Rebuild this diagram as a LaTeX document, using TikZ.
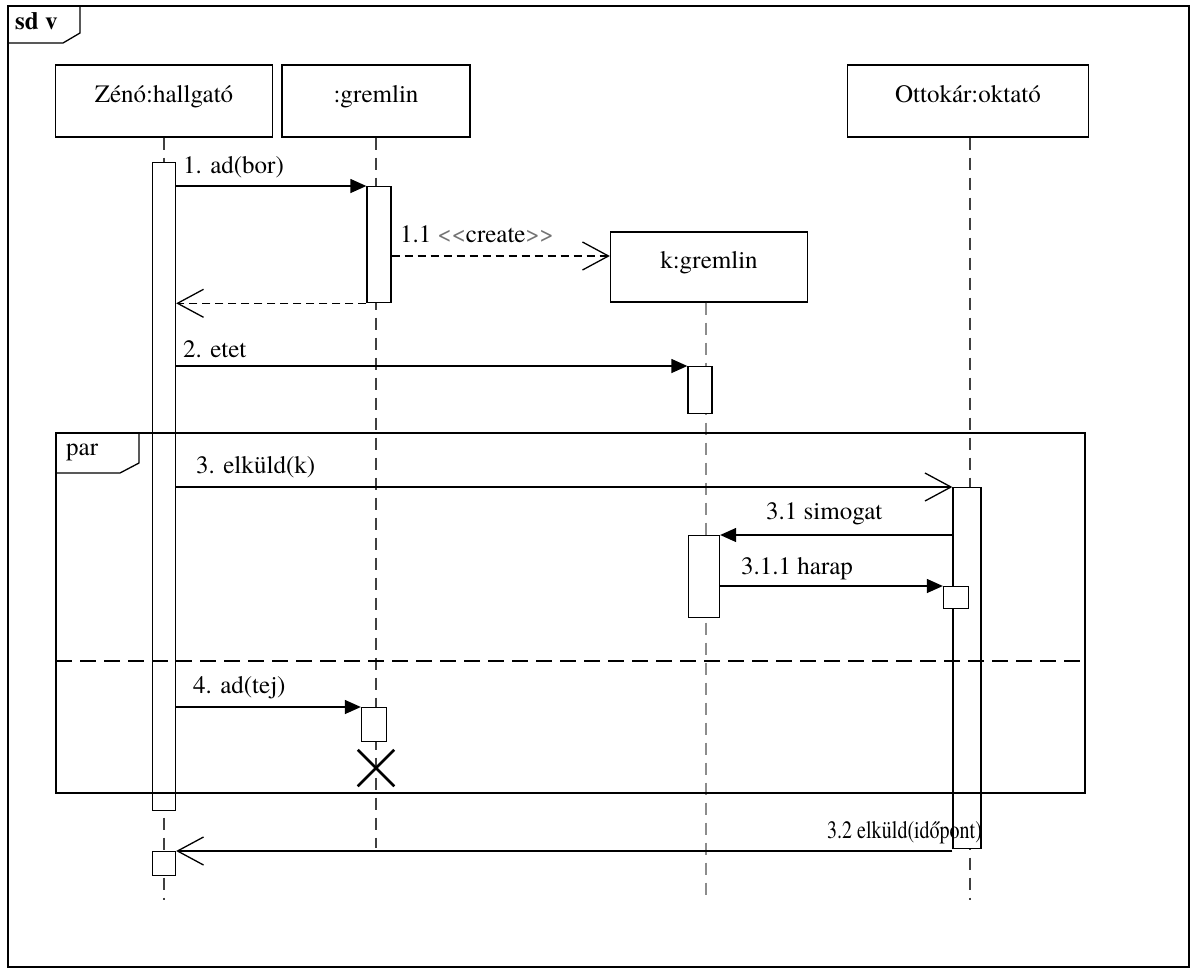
\documentclass[tikz,border=0pt]{standalone}
\usepackage{fontspec}
\setmainfont{texgyretermes}[Extension=.otf, UprightFont=*-regular, BoldFont=*-bold]
\usepackage{xcolor}
\usetikzlibrary{arrows.meta,shapes.misc}

\tikzset{
  head/.style={draw, line width=1.3pt, minimum height=72pt, text height=17pt, text depth=15pt, inner sep=0pt},
  act/.style={draw, fill=white, line width=1.3pt, inner sep=0pt, anchor=north},
  life/.style={line width=1.3pt, black!75, dash pattern=on 12pt off 8pt},
  call/.style={line width=1.3pt, -{Triangle[length=16pt,width=14pt]}},
  reply/.style={line width=1.3pt, -{Straight Barb[length=26pt,width=28pt]}},
  dashmsg/.style={dash pattern=on 8pt off 5pt},
  lbl/.style={anchor=base west, inner sep=0pt},
}

\begin{document}
\begin{tikzpicture}[x=1pt, y=-1pt, font=\fontsize{25}{30}\selectfont]
    \useasboundingbox (0,0) rectangle (1192,970);
    % Frame sd v
    \draw[line width=1.3pt] (8,6) rectangle (1189,967);
    \draw[line width=1.3pt] (80,6) -- (80,33) -- (63,43) -- (8,43);
    \node[lbl, font=\fontsize{25}{30}\selectfont\bfseries] (sd) at (15,29) {sd v};
    % Lifeline heads
    \node[head, minimum width=217pt] (zeno) at (164,101) {Zénó:hallgató};
    \node[head, minimum width=188pt] (grem) at (376,101) {:gremlin};
    \node[head, minimum width=241pt] (otto) at (968,101) {Ottokár:oktató};
    \node[head, minimum width=197pt, minimum height=70pt] (kgrem) at (709,267) {k:gremlin};
    % Lifelines
    \coordinate (zenoend) at (164,900);
    \coordinate (gremend) at (376,848);
    \coordinate (kend) at (706,900);
    \coordinate (ottoend) at (970,900);
    \draw[life] (zeno.south) -- (zenoend);
    \draw[life] (grem.south) -- (gremend);
    \draw[life, black!45] (kgrem.south -| kend) -- (kend);
    \draw[life] (otto.south -| ottoend) -- (ottoend);
    % Activations
    \node[act, minimum width=23pt, minimum height=648pt] (za) at (164,162) {};
    \node[act, minimum width=23pt, minimum height=24pt] (zb) at (164,851) {};
    \node[act, minimum width=24pt, minimum height=116pt] (ga) at (379,186) {};
    \node[act, minimum width=25pt, minimum height=34pt] (gb) at (374,707) {};
    \node[act, minimum width=24pt, minimum height=47pt] (ka) at (700,366) {};
    \node[act, minimum width=31pt, minimum height=82pt] (kb) at (704,535) {};
    \node[act, minimum width=28pt, minimum height=361pt] (oa) at (967,487) {};
    \node[act, minimum width=25pt, minimum height=22pt] (ob) at (956,586) {};
    % Destruction
    \node[cross out, draw, line width=2.5pt, minimum size=34pt, inner sep=0pt] (kill) at (376,768) {};
    % 1. ad(bor)
    \draw[call] (za.east |- ga.north west) -- (ga.north west);
    \node[lbl] (m1) at (183,173) {1. ad(bor)};
    % 1.1 create
    \coordinate (knew) at ([yshift=11pt]kgrem.west);
    \draw[reply, dashmsg] (ga.east |- knew) -- (knew);
    \node[lbl] (m11) at (400,242) {1.1 {\color{black!55}<\kern0pt<}create{\color{black!55}>\kern0pt>}};
    \draw[reply, dashmsg] (ga.south west) -- (za.east |- ga.south west);
    % 2. etet
    \draw[call] (za.east |- ka.north west) -- (ka.north west);
    \node[lbl] (m2) at (183,357) {2. etet};
    % par fragment
    \draw[line width=1.3pt] (56,433) rectangle (1085,793);
    \draw[line width=1.3pt] (139,433) -- (139,463) -- (120,473) -- (56,473);
    \node[lbl] (par) at (66,455) {par};
    \draw[line width=1.3pt, dash pattern=on 16pt off 8pt] (56,661) -- (1085,661);
    % 3. elkuld(k)
    \draw[reply] (za.east |- oa.north west) -- (oa.north west);
    \node[lbl] (m3) at (196,473) {3. elküld(k)};
    % 3.1 simogat
    \draw[call] (oa.west |- kb.north east) -- (kb.north east);
    \node[lbl] (m31) at (766,519) {3.1 simogat};
    % 3.1.1 harap
    \draw[call] (kb.east |- ob.north west) -- (ob.north west);
    \node[lbl] (m311) at (741,574) {3.1.1 harap};
    % 4. ad(tej)
    \draw[call] (za.east |- gb.north west) -- (gb.north west);
    \node[lbl] (m4) at (193,693) {4. ad(tej)};
    % 3.2 elkuld(idopont)
    \draw[reply] (oa.south west |- zb.north east) -- (zb.north east);
    \node[lbl] (m32) at (827,838) {\scalebox{0.8}[1]{3.2 elküld(időpont)}};
\end{tikzpicture}
\end{document}
